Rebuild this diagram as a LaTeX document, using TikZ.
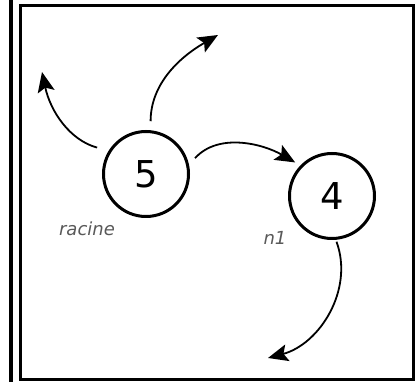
\documentclass[tikz,border=0pt]{standalone}
\usepackage{fontspec}
\setmainfont{DejaVu Sans}
\usepackage{tikz}
\usetikzlibrary{arrows.meta, positioning}

\begin{document}
\begin{tikzpicture}[x=1pt, y=1pt, >={Stealth[length=20pt, width=17pt, inset=4pt]}]
        \tikzset{noeud/.style={circle, draw, line width=3pt, minimum size=85pt, inner sep=0pt, font=\fontsize{37}{40}\selectfont}}
        \tikzstyle{etiquette}=[text=black!65, font=\fontsize{18}{20}\selectfont\itshape]
        \tikzstyle{fleche}=[->, line width=1.8pt]

        \useasboundingbox (0,0) rectangle (415,382);
        \draw[line width=4pt] (11,0) -- (11,382);
        \draw[line width=3pt] (20,2) rectangle (413,376);

        \node[noeud] (racine) at (146,208) {5};
        \node[noeud] (n1) at (332,186) {4};
        \node[etiquette] (l_racine) at (87,153) {racine};
        \node[etiquette] (l_n1) at (275,144) {n1};

        \coordinate (g) at (42,310);
        \coordinate (d) at (218,347);
        \coordinate (b) at (268,24);

        \path[fleche]
        (racine.148) edge [out=165, in=-78, shorten <=12pt] (g)
        (racine.84) edge [out=90, in=210, shorten <=9pt] (d)
        (racine.12) edge [out=48, in=150, shorten <=9pt, shorten >=6pt] (n1.136)
        (n1.-85) edge [out=-70, in=15, shorten <=2pt] (b);
    \end{tikzpicture}
\end{document}
